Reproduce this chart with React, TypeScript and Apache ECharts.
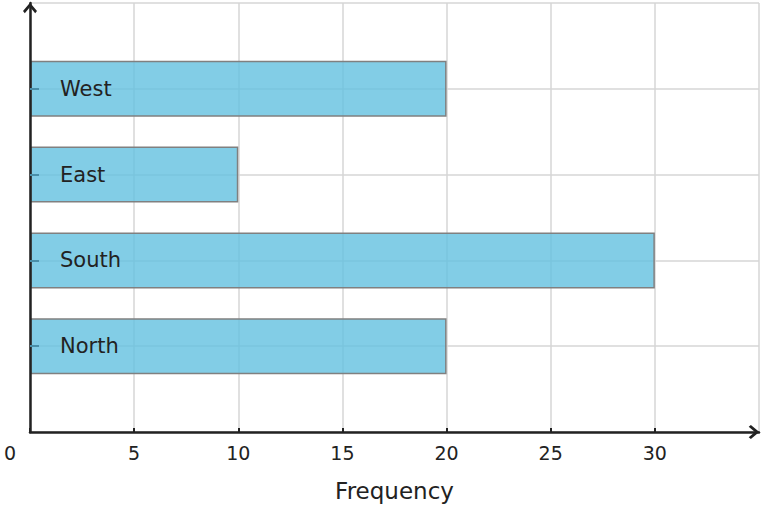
import { useRef, useEffect } from 'react';
import * as echarts from 'echarts';

const categories = ['', 'North', 'South', 'East', 'West', ''];
const frequencies = ['-', 20, 30, 10, 20, '-'];
const xTicks = { min: 0, max: 35, interval: 5 };

const FONT = 'DejaVu Sans';
const INK = '#222222';
const GRID = '#d6d6d6';
// open chevron arrow head pointing up
const ARROW = 'path://M7,0 L14,8.4 L12.2,10.6 L7,4.4 L1.8,10.6 L0,8.4 Z';

const arrowLine = {
  show: true,
  symbol: ['none', ARROW],
  symbolSize: [14, 11],
  symbolOffset: [0, -5],
  lineStyle: { color: INK, width: 2.5 },
};

export default function App() {
  const chartRef = useRef<HTMLDivElement>(null);

  useEffect(() => {
    document.body.style.margin = '0';
    if (!chartRef.current) return;
    const chart = echarts.init(chartRef.current, null, { renderer: 'svg' });

    const option = {
      animation: false,
      textStyle: { fontFamily: FONT },
      grid: { left: 30, right: 4, top: 3, bottom: 76, containLabel: false },
      xAxis: {
        type: 'value',
        min: xTicks.min,
        max: xTicks.max,
        interval: xTicks.interval,
        name: 'Frequency',
        nameLocation: 'middle',
        nameGap: 47,
        nameTextStyle: { fontSize: 23, color: INK, fontFamily: FONT },
        axisLine: arrowLine,
        axisTick: { show: true, inside: true, length: 4, lineStyle: { color: INK, width: 2 } },
        axisLabel: {
          fontSize: 19,
          color: INK,
          margin: 11,
          fontFamily: FONT,
          showMaxLabel: false,
          formatter: (v: number) => (v === 0 ? '{z|0}' : String(v)),
          rich: { z: { fontSize: 19, color: INK, fontFamily: FONT, padding: [0, 40, 0, 0] } },
        },
        splitLine: { show: true, lineStyle: { color: GRID, width: 1.5 } },
      },
      yAxis: [
        {
          // grid lines behind the bars
          type: 'category',
          data: categories,
          boundaryGap: false,
          axisLine: { show: false },
          axisTick: { show: false },
          axisLabel: { show: false },
          splitLine: { show: true, lineStyle: { color: GRID, width: 1.5 } },
        },
        {
          // axis line, ticks and labels above the bars
          type: 'category',
          data: categories,
          boundaryGap: false,
          position: 'left',
          offset: 0,
          z: 10,
          axisLine: arrowLine,
          axisTick: {
            show: true,
            inside: true,
            length: 9,
            interval: (i: number) => i > 0 && i < categories.length - 1,
            lineStyle: { color: '#4a8fa8', width: 2 },
          },
          axisLabel: {
            inside: true,
            margin: 30,
            fontSize: 21,
            color: INK,
            fontFamily: FONT,
          },
          splitLine: { show: false },
        },
      ],
      series: [
        {
          type: 'bar',
          yAxisIndex: 0,
          data: frequencies,
          barWidth: 56,
          itemStyle: {
            color: 'rgba(99,192,224,0.8)',
            borderColor: '#808080',
            borderWidth: 1.5,
          },
        },
      ],
    };

    chart.setOption(option);

    const handleResize = () => chart.resize();
    window.addEventListener('resize', handleResize);
    return () => {
      window.removeEventListener('resize', handleResize);
      chart.dispose();
    };
  }, []);

  return <div ref={chartRef} style={{ width: 763, height: 508 }} />;
}
